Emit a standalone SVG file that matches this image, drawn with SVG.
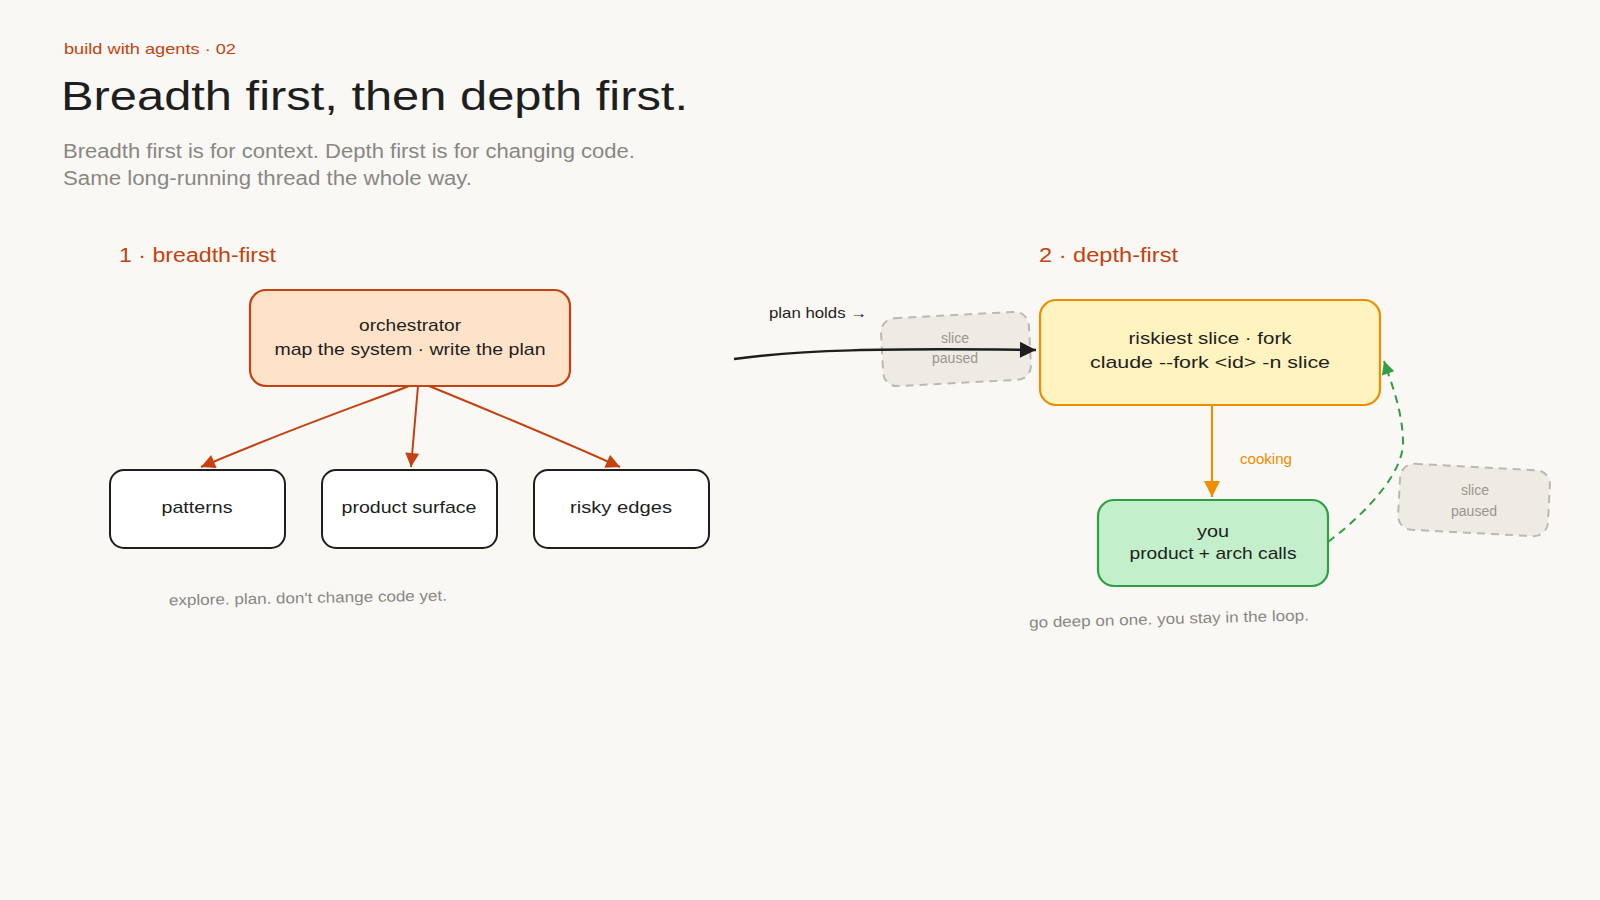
<svg xmlns="http://www.w3.org/2000/svg" width="1600" height="900" viewBox="0 0 1600 900">
  <style>
    text { font-family: "Liberation Sans", "Noto Sans", sans-serif; }
    .kicker { font-size: 15px; fill: #c4420f; }
    .title { font-size: 40px; fill: #1e1e1e; }
    .sub { font-size: 20px; fill: #8a8783; }
    .section { font-size: 20px; fill: #c4420f; }
    .label { font-size: 17px; fill: #1e1e1e; text-anchor: middle; }
    .note { font-size: 15px; fill: #8a8783; text-anchor: middle; }
    .ghost-text { font-size: 14px; fill: #9a958f; text-anchor: middle; }
    .ghost { fill: #eeebe5; stroke: #bdb8b0; stroke-width: 2; stroke-dasharray: 8 6; }
    .leaf { fill: #ffffff; stroke: #1e1e1e; stroke-width: 2; }
  </style>
  <defs>
    <marker id="ah-rust" viewBox="0 0 10 10" refX="10" refY="5" markerWidth="17" markerHeight="14" markerUnits="userSpaceOnUse" orient="auto">
      <path d="M0 0 L10 5 L0 10 Z" fill="#c4420f"/>
    </marker>
    <marker id="ah-ink" viewBox="0 0 10 10" refX="10" refY="5" markerWidth="19" markerHeight="16" markerUnits="userSpaceOnUse" orient="auto">
      <path d="M0 0 L10 5 L0 10 Z" fill="#1e1e1e"/>
    </marker>
    <marker id="ah-orange" viewBox="0 0 10 10" refX="10" refY="5" markerWidth="18" markerHeight="16" markerUnits="userSpaceOnUse" orient="auto">
      <path d="M0 0 L10 5 L0 10 Z" fill="#f08c00"/>
    </marker>
    <marker id="ah-green" viewBox="0 0 10 10" refX="10" refY="5" markerWidth="15" markerHeight="13" markerUnits="userSpaceOnUse" orient="auto">
      <path d="M0 0 L10 5 L0 10 Z" fill="#2f9e44"/>
    </marker>
  </defs>

  <rect width="1600" height="900" fill="#f9f8f4"/>

  <!-- header -->
  <g id="header">
    <text class="kicker" x="64" y="54" textLength="172" lengthAdjust="spacingAndGlyphs">build with agents · 02</text>
    <text class="title" x="61" y="110" textLength="627" lengthAdjust="spacingAndGlyphs">Breadth first, then depth first.</text>
    <text class="sub" x="63" y="158" textLength="572" lengthAdjust="spacingAndGlyphs">Breadth first is for context. Depth first is for changing code.</text>
    <text class="sub" x="63" y="185" textLength="409" lengthAdjust="spacingAndGlyphs">Same long-running thread the whole way.</text>
  </g>

  <!-- section labels -->
  <text class="section" x="119" y="262" textLength="157" lengthAdjust="spacingAndGlyphs">1 · breadth-first</text>
  <text class="section" x="1039" y="262" textLength="139" lengthAdjust="spacingAndGlyphs">2 · depth-first</text>

  <!-- paused slices (behind the fork arrow) -->
  <g id="ghost-slice-a">
    <rect class="ghost" x="882" y="315" width="148" height="68" rx="14" transform="rotate(-3 956 349)"/>
    <text class="ghost-text" x="955" y="343">slice</text>
    <text class="ghost-text" x="955" y="363">paused</text>
  </g>
  <g id="ghost-slice-b">
    <rect class="ghost" x="1399" y="467" width="150" height="66" rx="14" transform="rotate(3 1474 500)"/>
    <text class="ghost-text" x="1475" y="495">slice</text>
    <text class="ghost-text" x="1474" y="516">paused</text>
  </g>

  <!-- breadth-first nodes -->
  <g id="orchestrator">
    <rect x="250" y="290" width="320" height="96" rx="16" fill="#ffe3c9" stroke="#c4420f" stroke-width="2.2"/>
    <text class="label" x="410" y="331" textLength="102" lengthAdjust="spacingAndGlyphs">orchestrator</text>
    <text class="label" x="410" y="355" textLength="271" lengthAdjust="spacingAndGlyphs">map the system · write the plan</text>
  </g>
  <g id="patterns">
    <rect class="leaf" x="110" y="470" width="175" height="78" rx="14"/>
    <text class="label" x="197" y="513" textLength="71" lengthAdjust="spacingAndGlyphs">patterns</text>
  </g>
  <g id="product-surface">
    <rect class="leaf" x="322" y="470" width="175" height="78" rx="14"/>
    <text class="label" x="409" y="513" textLength="135" lengthAdjust="spacingAndGlyphs">product surface</text>
  </g>
  <g id="risky-edges">
    <rect class="leaf" x="534" y="470" width="175" height="78" rx="14"/>
    <text class="label" x="621" y="513" textLength="102" lengthAdjust="spacingAndGlyphs">risky edges</text>
  </g>
  <text class="note" x="308" y="603" textLength="278" lengthAdjust="spacingAndGlyphs" transform="rotate(-1 308 600)">explore. plan. don't change code yet.</text>

  <!-- depth-first nodes -->
  <g id="riskiest-slice">
    <rect x="1040" y="300" width="340" height="105" rx="16" fill="#fff3bf" stroke="#f08c00" stroke-width="2.2"/>
    <text class="label" x="1210" y="344" textLength="163" lengthAdjust="spacingAndGlyphs">riskiest slice · fork</text>
    <text class="label" x="1210" y="368" textLength="240" lengthAdjust="spacingAndGlyphs">claude --fork &lt;id&gt; -n slice</text>
  </g>
  <g id="you">
    <rect x="1098" y="500" width="230" height="86" rx="16" fill="#c3efca" stroke="#2f9e44" stroke-width="2.2"/>
    <text class="label" x="1213" y="537" textLength="32" lengthAdjust="spacingAndGlyphs">you</text>
    <text class="label" x="1213" y="559" textLength="167" lengthAdjust="spacingAndGlyphs">product + arch calls</text>
  </g>
  <text class="note" x="1169" y="624" textLength="280" lengthAdjust="spacingAndGlyphs" transform="rotate(-1.5 1169 620)">go deep on one. you stay in the loop.</text>

  <!-- connectors -->
  <g id="connectors" fill="none">
    <path d="M409 386 C 360 405, 300 425, 201 467" stroke="#c4420f" stroke-width="2" marker-end="url(#ah-rust)"/>
    <path d="M418 386 L411 467" stroke="#c4420f" stroke-width="2" marker-end="url(#ah-rust)"/>
    <path d="M429 386 C 500 415, 560 440, 620 467" stroke="#c4420f" stroke-width="2" marker-end="url(#ah-rust)"/>
    <path d="M734 359 C 800 350, 880 348, 1036 350" stroke="#1e1e1e" stroke-width="2.4" marker-end="url(#ah-ink)"/>
    <path d="M1212 405 L1212 497" stroke="#f08c00" stroke-width="2.2" marker-end="url(#ah-orange)"/>
    <path d="M1328 542 C 1370 510, 1405 470, 1403 440 C 1402 410, 1392 385, 1384 361" stroke="#2f9e44" stroke-width="2" stroke-dasharray="8 6" marker-end="url(#ah-green)"/>
  </g>

  <!-- connector labels -->
  <text x="769" y="318" font-size="15" fill="#1e1e1e" textLength="98" lengthAdjust="spacingAndGlyphs">plan holds →</text>
  <text x="1240" y="464" font-size="14" fill="#f08c00" textLength="52" lengthAdjust="spacingAndGlyphs">cooking</text>
</svg>
